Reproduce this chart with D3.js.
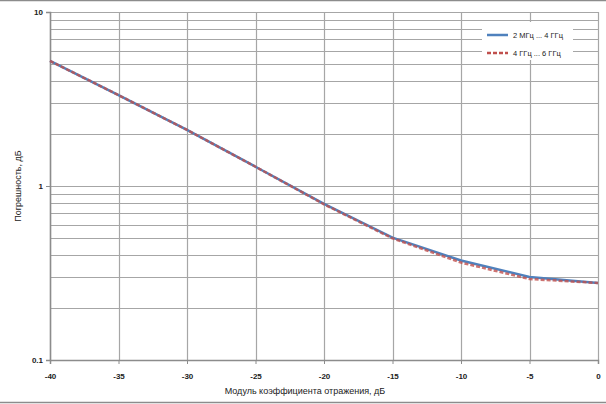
<!DOCTYPE html>
<html><head><meta charset="utf-8">
<script src="https://cdn.jsdelivr.net/npm/d3@7"></script>
<style>body{margin:0;background:#fff}svg{display:block}</style>
</head><body>
<svg id="c" width="606" height="404"></svg>
<script>
const xValues = [-40, -35, -30, -25, -20, -15, -10, -5, 0];
const series1 = [5.23, 3.33, 2.10, 1.29, 0.79, 0.505, 0.373, 0.30, 0.277];
const series2 = [5.23, 3.33, 2.10, 1.29, 0.785, 0.50, 0.363, 0.292, 0.277];
const seriesNames = ["2 МГц ... 4 ГГц", "4 ГГц ... 6 ГГц"];
const xTicks = [-40, -35, -30, -25, -20, -15, -10, -5, 0];
const xTickLabels = ["-40", "-35", "-30", "-25", "-20", "-15", "-10", "-5", "0"];
const yTicks = [0.1, 1, 10];
const yTickLabels = ["0.1", "1", "10"];

const svg = d3.select("#c");
const L = 50, R = 598, T = 12, B = 360;
const x = d3.scaleLinear().domain([-40, 0]).range([L, R]);
const y = d3.scaleLog().domain([0.1, 10]).range([B, T]);
const grid = "#a6a6a6";

// outer frame lines
svg.append("line").attr("x1",0).attr("x2",606).attr("y1",0.5).attr("y2",0.5).attr("stroke","#8c8c8c").attr("stroke-width",1.5);
svg.append("line").attr("x1",0).attr("x2",606).attr("y1",402.5).attr("y2",402.5).attr("stroke","#8c8c8c").attr("stroke-width",1.5);

// horizontal gridlines (major + minor)
const minor = [];
[0.1, 1].forEach(d => { for (let k = 1; k <= 10; k++) minor.push(d * k); });
svg.append("g").selectAll("line").data(minor).join("line")
  .attr("x1", L).attr("x2", R)
  .attr("y1", d => Math.round(y(d)) + 0.5).attr("y2", d => Math.round(y(d)) + 0.5)
  .attr("stroke", grid).attr("stroke-width", 1.2);
// vertical gridlines
svg.append("g").selectAll("line").data(xTicks).join("line")
  .attr("x1", d => Math.round(x(d)) + 0.5).attr("x2", d => Math.round(x(d)) + 0.5)
  .attr("y1", T).attr("y2", B)
  .attr("stroke", grid).attr("stroke-width", 1.2);

// axes
const yAxis = d3.axisLeft(y).tickValues(yTicks).tickFormat((d,i) => yTickLabels[i]).tickSize(4).tickPadding(3);
const gy = svg.append("g").attr("transform", `translate(${L},0)`).call(yAxis);
const xAxis = d3.axisBottom(x).tickValues(xTicks).tickFormat((d,i) => xTickLabels[i]).tickSize(4).tickPadding(9);
const gx = svg.append("g").attr("transform", `translate(0,${B})`).call(xAxis);
[gx, gy].forEach(g => {
  g.selectAll("path.domain").attr("stroke", "#8c8c8c").attr("stroke-width", 1.5);
  g.selectAll(".tick line").attr("stroke", "#8c8c8c");
  g.selectAll(".tick text").attr("font-family", "Liberation Sans, Arial, sans-serif")
    .attr("font-size", 8).attr("font-weight", "bold").attr("fill", "#222");
});

// lines
const line = d3.line().x((d,i) => x(xValues[i])).y(d => y(d));
svg.append("path").datum(series1).attr("d", line).attr("fill","none")
  .attr("stroke", "#4f81bd").attr("stroke-width", 2.5);
svg.append("path").datum(series2).attr("d", line).attr("fill","none")
  .attr("stroke", "#c0504d").attr("stroke-width", 2.5).attr("stroke-dasharray","4,2").attr("stroke-opacity",0.8);

// legend
const lg = svg.append("g");
lg.append("rect").attr("x", 482).attr("y", 22).attr("width", 91).attr("height", 38).attr("fill", "#fff");
const colors = ["#4f81bd", "#c0504d"];
const dashes = [null, "4,2"];
seriesNames.forEach((n, i) => {
  const yy = 35 + i * 18;
  lg.append("line").attr("x1", 487).attr("x2", 508).attr("y1", yy).attr("y2", yy)
    .attr("stroke", colors[i]).attr("stroke-width", 2.5).attr("stroke-dasharray", dashes[i]);
  lg.append("text").attr("x", 513).attr("y", yy + 3).text(n)
    .attr("font-family", "Liberation Sans, Arial, sans-serif").attr("font-size", 7.5).attr("fill", "#222");
});

// axis titles
svg.append("text").attr("x", 305).attr("y", 394).attr("text-anchor", "middle")
  .attr("font-family", "Liberation Sans, Arial, sans-serif").attr("font-size", 9).attr("fill", "#222")
  .text("Модуль коэффициента отражения, дБ");
svg.append("text").attr("transform", "translate(21,186) rotate(-90)").attr("text-anchor", "middle")
  .attr("font-family", "Liberation Sans, Arial, sans-serif").attr("font-size", 9).attr("fill", "#222")
  .text("Погрешность, дБ");
</script>
</body></html>
